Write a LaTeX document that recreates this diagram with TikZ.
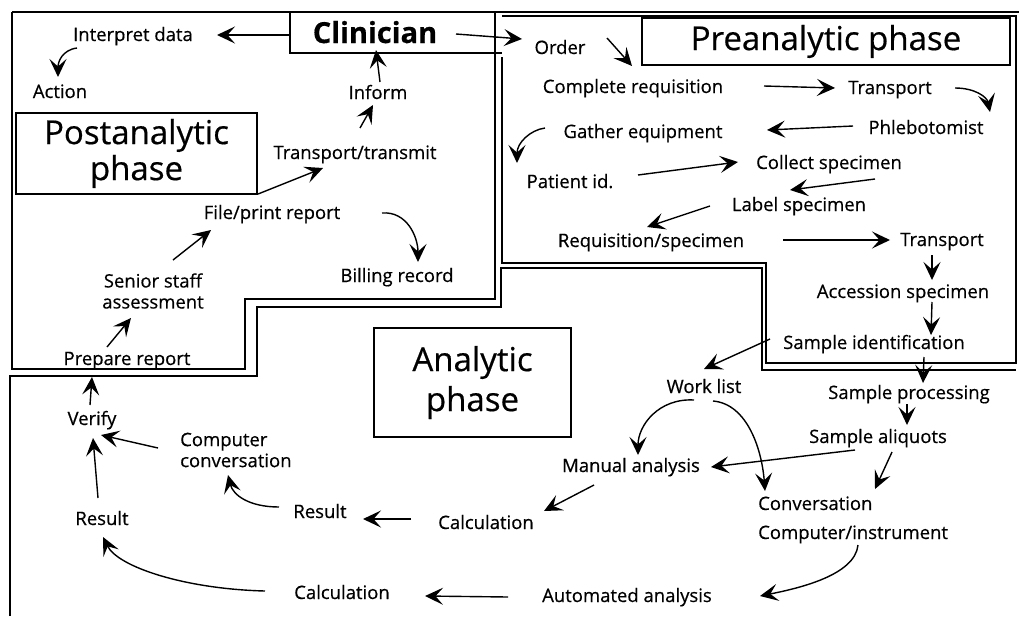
\documentclass[tikz,border=0pt]{standalone}
\usepackage{fontspec}
\setmainfont{Open Sans}[FakeBold=0.5]
\usetikzlibrary{arrows.meta}
\newcommand\lblfont{\fontsize{18.5}{21}\selectfont}
\newcommand\ttlfont{\fontsize{33}{36}\selectfont}
\newcommand\anafont{\fontsize{33}{40}\selectfont}
\begin{document}
\begin{tikzpicture}[x=1pt,y=-1pt,
 lbl/.style={font=\lblfont, inner sep=0pt, anchor=base},
 lbltwo/.style={font=\lblfont, inner sep=0pt},
 ttl/.style={draw, line width=1.3pt, inner sep=0pt, align=center},
 arr/.style={line width=1.4pt, -{Stealth[length=18pt,width=17pt,inset=7.5pt]}},
 region/.style={line width=1.5pt}]
\useasboundingbox (0,0) rectangle (1019,616);

% region borders
\draw[region] (12,12) -- (1019,12);
\draw[region] (495,12) -- (495,299) -- (245,299) -- (245,369) -- (12,369) -- (12,12);
\draw[region] (502,57) -- (502,263) -- (766,263) -- (766,363) -- (1016,363) -- (1016,16) -- (502,16);
\draw[region] (10,616) -- (10,376) -- (257,376) -- (257,307) -- (501,307) -- (501,268) -- (762,268) -- (762,370) -- (1016,370);
\draw[region] (290,13) -- (290,53) -- (502,53);

% title boxes
\node[ttl, minimum width=368pt, minimum height=47pt, font=\ttlfont] (pre) at (826,41.5) {Preanalytic phase};
\node[ttl, minimum width=241pt, minimum height=81pt, font=\ttlfont] (post) at (136.5,153.5) {Postanalytic\\phase};
\node[ttl, minimum width=197pt, minimum height=109pt, font=\anafont] (ana) at (472.5,382.5) {Analytic\\phase};
\node[font=\bfseries\fontsize{29}{32}\selectfont, inner sep=0pt, anchor=base] (clin) at (375,43) {Clinician};

% labels
\node[lbl] (interp) at (133,41) {Interpret data};
\node[lbl] (action) at (60,98) {Action};
\node[lbl] (inform) at (378,99) {Inform};
\node[lbl] (trans) at (355,159) {Transport/transmit};
\node[lbl] (file) at (272,219) {File/print report};
\node[lbl] (bill) at (397,282) {Billing record};
\node[lbltwo, align=center] (senior) at (153,291) {Senior staff\\assessment};
\node[lbl] (prep) at (127,365) {Prepare report};
\node[lbl] (verify) at (92,425) {Verify};
\node[lbltwo, align=left, anchor=west] (cconv) at (180,450) {Computer\\conversation};
\node[lbl] (resR) at (320,518) {Result};
\node[lbl] (resL) at (102,525) {Result};
\node[lbl] (calcB) at (342,599) {Calculation};
\node[lbl] (calcM) at (486,529) {Calculation};
\node[lbl] (work) at (704,393) {Work list};
\node[lbl] (sid) at (874,349) {Sample identification};
\node[lbl] (sproc) at (909,399) {Sample processing};
\node[lbl] (aliq) at (878,443) {Sample aliquots};
\node[lbl] (manual) at (631,472) {Manual analysis};
\node[lbl, anchor=base west] (conv) at (758,510) {Conversation};
\node[lbl, anchor=base west] (cinst) at (758,539) {Computer/instrument};
\node[lbl] (auto) at (627,602) {Automated analysis};
\node[lbl] (order) at (560,54) {Order};
\node[lbl] (creq) at (633,93) {Complete requisition};
\node[lbl] (tr1) at (890,94) {Transport};
\node[lbl] (phleb) at (926,134) {Phlebotomist};
\node[lbl] (gather) at (643,138) {Gather equipment};
\node[lbl] (collect) at (829,169) {Collect specimen};
\node[lbl] (patient) at (570,188) {Patient id.};
\node[lbl] (labelsp) at (799,211) {Label specimen};
\node[lbl] (reqsp) at (651,247) {Requisition/specimen};
\node[lbl] (tr2) at (942,246) {Transport};
\node[lbl] (access) at (903,298) {Accession specimen};

% arrows: postanalytic
\draw[arr] ([shift={(-85,-8)}]clin.base) -- ([shift={(84,-6)}]interp.base);
\draw[arr] ([shift={(81,-9)}]clin.base) -- ([shift={(-38,-15)}]order.base);
\draw[arr] ([shift={(-56,7)}]interp.base) .. controls +(-15,2) and +(0,-15) .. ([shift={(-2,-21)}]action.base);
\draw[arr] ([shift={(2,-17)}]inform.base) -- ([shift={(1,7)}]clin.base);
\draw[arr] ([shift={(5,-31)}]trans.base) -- ([shift={(-5,6)}]inform.base);
\draw[arr] ([shift={(-14,-25)}]file.base) -- ([shift={(-32,9)}]trans.base);
\draw[arr] ([shift={(20,-31)}]senior.center) -- ([shift={(-61,11)}]file.base);
\draw[arr] ([shift={(110,-6)}]file.base) .. controls +(25,-2) and +(0,-25) .. ([shift={(21,-20)}]bill.base);
\draw[arr] ([shift={(-20,-18)}]prep.base) -- ([shift={(-22,27)}]senior.center);
\draw[arr] ([shift={(-2,-20)}]verify.base) -- ([shift={(-35,12)}]prep.base);

% arrows: analytic
\draw[arr] ([shift={(-22,-2)}]cconv.west) -- ([shift={(9,10)}]verify.base);
\draw[arr] ([shift={(-4,-27)}]resL.base) -- ([shift={(1,13)}]verify.base);
\draw[arr] ([shift={(-41,-11)}]resR.base) .. controls +(-30,0) and +(5,20) .. ([shift={(48,25)}]cconv.west);
\draw[arr] ([shift={(-77,-8)}]calcB.base) .. controls +(-80,-2) and +(15,30) .. ([shift={(1,12)}]resL.base);
\draw[arr] ([shift={(-75,-10)}]calcM.base) -- ([shift={(43,1)}]resR.base);
\draw[arr] ([shift={(-119,-5)}]auto.base) -- ([shift={(83,-3)}]calcB.base);
\draw[arr] ([shift={(-37,13)}]manual.base) -- ([shift={(58,-18)}]calcM.base);
\draw[arr] ([shift={(100,6)}]cinst.base west) .. controls +(-3,30) and +(40,-8) .. ([shift={(133,-6)}]auto.base);
\draw[arr] ([shift={(14,9)}]aliq.base) -- ([shift={(117,-21)}]conv.base west);
\draw[arr] ([shift={(-23,7)}]aliq.base) -- ([shift={(80,-5)}]manual.base);
\draw[arr] ([shift={(-10,7)}]work.base) .. controls +(-35,-2) and +(0,-30) .. ([shift={(7,-17)}]manual.base);
\draw[arr] ([shift={(9,8)}]work.base) .. controls +(35,3) and +(-3,-40) .. ([shift={(7,-19)}]conv.base west);
\draw[arr] ([shift={(-104,-10)}]sid.base) -- ([shift={(0,-24)}]work.base);
\draw[arr] ([shift={(50,8)}]sid.base) -- ([shift={(14,-16)}]sproc.base);
\draw[arr] ([shift={(-2,5)}]sproc.base) -- ([shift={(29,-18)}]aliq.base);

% arrows: preanalytic
\draw[arr] ([shift={(29,4)}]access.base) -- ([shift={(57,-14)}]sid.base);
\draw[arr] ([shift={(-10,9)}]tr2.base) -- ([shift={(29,-18)}]access.base);
\draw[arr] ([shift={(132,-7)}]reqsp.base) -- ([shift={(-52,-6)}]tr2.base);
\draw[arr] ([shift={(-89,-5)}]labelsp.base) -- ([shift={(-4,-20)}]reqsp.base);
\draw[arr] ([shift={(46,10)}]collect.base) -- ([shift={(-9,-21)}]labelsp.base);
\draw[arr] ([shift={(68,-13)}]patient.base) -- ([shift={(-91,-7)}]collect.base);
\draw[arr] ([shift={(-98,-10)}]gather.base) .. controls +(-15,2) and +(0,-20) .. ([shift={(-53,-25)}]patient.base);
\draw[arr] ([shift={(-73,-8)}]phleb.base) -- ([shift={(124,-8)}]gather.base);
\draw[arr] ([shift={(65,-6)}]tr1.base) .. controls +(20,0) and +(-3,-15) .. ([shift={(64,-22)}]phleb.base);
\draw[arr] ([shift={(131,-7)}]creq.base) -- ([shift={(-55,-6)}]tr1.base);
\draw[arr] ([shift={(47,-16)}]order.base) -- ([shift={(-1,-27)}]creq.base);
\end{tikzpicture}
\end{document}
